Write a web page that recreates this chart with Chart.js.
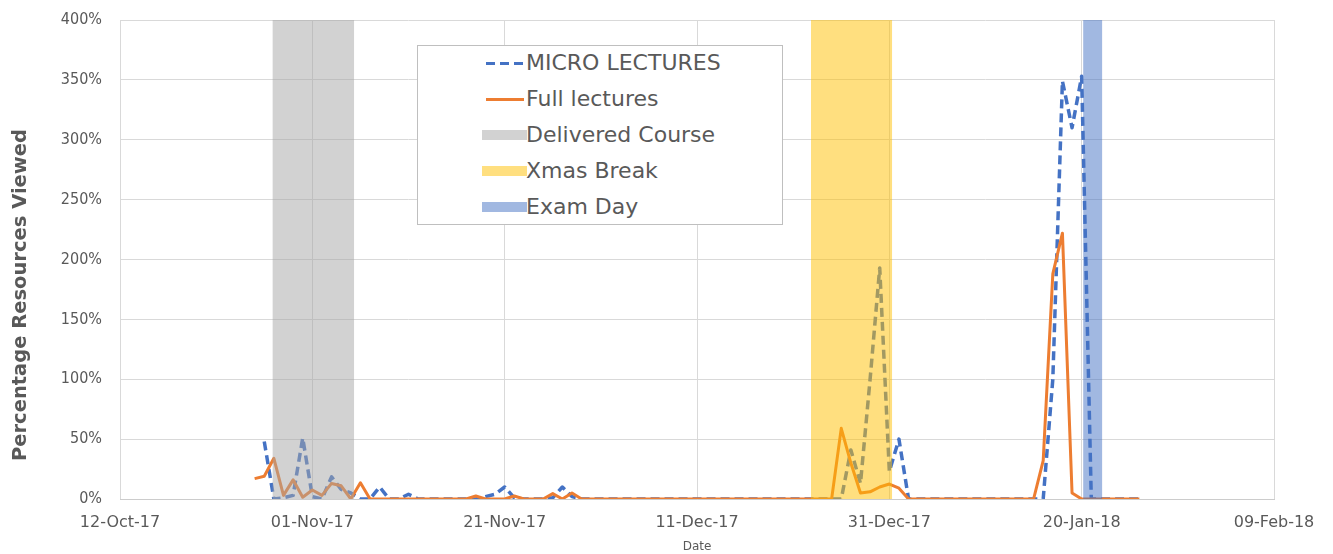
<!DOCTYPE html>
<html>
<head>
<meta charset="utf-8">
<title>Percentage Resources Viewed</title>
<script src="https://cdn.jsdelivr.net/npm/chart.js@4.4.0/dist/chart.umd.min.js"></script>
<style>
  html, body { margin: 0; padding: 0; background: #fff; }
  #wrap { position: relative; width: 1333px; height: 554px; }
  #legendBox { position: absolute; left: 417px; top: 45px; width: 364px; height: 178px; border: 1px solid #bfbfbf; background: #fff; }
  .lg-label { position: absolute; left: 526px; height: 36px; line-height: 36px; font-family: "DejaVu Sans"; font-size: 22px; color: #595959; white-space: nowrap; }
  .lg-swatch { position: absolute; }
</style>
</head>
<body>
<div id="wrap">
  <canvas id="chart" width="1333" height="554"></canvas>
  <div id="legendBox"></div>
</div>
<script>
// days are counted from 12-Oct-17 (day 0); first recorded day is 26-Oct-17
const firstDay = 14;

const microLectures = [
    null, 48, 0, 1, 3, 51, 2, 0, 18.5, 8, 5, 0, 0,            // days 14-26
    10, 0, 0, 4, 0, 0, 0, 0, 0, 0,                             // days 27-36
    0, 2, 4, 10, 1, 0, 0, 0, 1, 10, 2,                         // days 37-47
    0, 0, 0, 0, 0, 0, 0, 0, 0, 0, 0, 0, 0, 0, 0, 0, 0, 0, 0, 0, 0, 0, 0, 0, 0, 0, 0, // days 48-74
    0, 41, 13, 100, 193, 23, 50,                               // days 75-81
    0, 0, 0, 0, 0, 0, 0, 0, 0, 0, 0, 0, 0, 0,                  // days 82-95
    0, 100, 349, 310,                                          // days 96-99
    353, 0, 0, 0, 0, 0, 0                                      // days 100-106
];

const fullLectures = [
    17, 19, 34, 3, 16, 1.5, 7.5, 3, 13, 11, 0, 13.5, 0,
    0, 0, 0, 0, 0, 0, 0, 0, 0, 0,
    2.5, 0, 0, 0, 2.5, 0, 0, 0, 4.5, 0, 5,
    0, 0, 0, 0, 0, 0, 0, 0, 0, 0, 0, 0, 0, 0, 0, 0, 0, 0, 0, 0, 0, 0, 0, 0, 0, 0, 0,
    59, 30, 5, 6, 10, 12.5, 9,
    0, 0, 0, 0, 0, 0, 0, 0, 0, 0, 0, 0, 0, 0,
    32, 188, 222, 5,
    0, 0, 0, 0, 0, 0, 0
];

// shaded periods, [start day, end day]
const deliveredCourse = [15.85, 24.35];
const xmasBreak       = [71.85, 80.3];
const examDay         = [100.15, 102.15];

const tickLabels = ['12-Oct-17', '01-Nov-17', '21-Nov-17', '11-Dec-17', '31-Dec-17', '20-Jan-18', '09-Feb-18'];
const yMax = 400;

const toPoints = values => values.map((v, i) => ({ x: firstDay + i, y: v }));
const toBand = ([from, to]) => [{ x: from, y: yMax }, { x: to, y: yMax }];

const bandDataset = (label, range, color) => ({
    label,
    data: toBand(range),
    backgroundColor: color,
    borderWidth: 0,
    pointRadius: 0,
    fill: 'origin',
    order: 1,
    legendColor: color
});

const datasets = [
    {
        label: 'MICRO LECTURES',
        data: toPoints(microLectures),
        borderColor: '#4472c4',
        borderWidth: 3.5,
        borderDash: [9, 5],
        borderJoinStyle: 'round',
        pointRadius: 0,
        tension: 0,
        order: 3,
        legendType: 'dash'
    },
    {
        label: 'Full lectures',
        data: toPoints(fullLectures),
        borderColor: '#ed7d31',
        borderWidth: 3,
        borderJoinStyle: 'round',
        pointRadius: 0,
        tension: 0,
        order: 2,
        legendType: 'line'
    },
    bandDataset('Delivered Course', deliveredCourse, 'rgba(165,165,165,0.5)'),
    bandDataset('Xmas Break', xmasBreak, 'rgba(255,192,0,0.5)'),
    bandDataset('Exam Day', examDay, 'rgba(68,114,196,0.5)')
];

const yTitle = {
    id: 'yTitle',
    afterDraw: chart => {
        const { ctx } = chart;
        ctx.save();
        ctx.translate(21, 295);
        ctx.rotate(-Math.PI / 2);
        ctx.font = 'bold 19.5px "DejaVu Sans"';
        ctx.fillStyle = '#595959';
        ctx.textAlign = 'center';
        ctx.textBaseline = 'middle';
        ctx.fillText('Percentage Resources Viewed', 0, 0);
        ctx.restore();
    }
};

const config = {
    type: 'line',
    data: { datasets },
    options: {
        responsive: false,
        animation: false,
        events: [],
        layout: { padding: { left: 0, right: 59, top: 20, bottom: 0 } },
        plugins: { legend: { display: false }, tooltip: { enabled: false } },
        scales: {
            x: {
                type: 'linear',
                min: 0,
                max: 120,
                afterFit: scale => { scale.height = 55; },
                grid: { color: '#d9d9d9', drawTicks: false },
                border: { color: '#cccccc' },
                ticks: {
                    stepSize: 20,
                    padding: 14,
                    maxRotation: 0,
                    color: '#595959',
                    font: { family: 'DejaVu Sans', size: 16 },
                    callback: value => tickLabels[value / 20]
                },
                title: {
                    display: true,
                    text: 'Date',
                    color: '#595959',
                    font: { family: 'DejaVu Sans', size: 12 },
                    padding: 0
                }
            },
            y: {
                min: 0,
                max: yMax,
                afterFit: scale => {
                    scale.width = 120;
                    scale.paddingTop = 0;
                    scale.paddingBottom = 0;
                },
                grid: { color: '#d9d9d9', drawTicks: false },
                border: { display: false },
                ticks: {
                    stepSize: 50,
                    padding: 18,
                    color: '#595959',
                    font: { family: 'DejaVu Sans Condensed', size: 16 },
                    callback: value => value + '%'
                }
            }
        }
    },
    plugins: [yTitle]
};

const myChart = new Chart(document.getElementById('chart'), config);

// legend inside the plot area, like the original
const wrap = document.getElementById('wrap');
datasets.forEach((ds, i) => {
    const centerY = 63 + i * 36;
    const swatch = document.createElement('div');
    swatch.className = 'lg-swatch';
    if (ds.legendType === 'dash') {
        Object.assign(swatch.style, { left: '486px', width: '38px', height: '3px', top: (centerY - 1.5) + 'px',
            background: `repeating-linear-gradient(to right, ${ds.borderColor} 0 9px, transparent 9px 14px)` });
    } else if (ds.legendType === 'line') {
        Object.assign(swatch.style, { left: '486px', width: '38px', height: '3px', top: (centerY - 1.5) + 'px',
            background: ds.borderColor });
    } else {
        Object.assign(swatch.style, { left: '482px', width: '45px', height: '10px', top: (centerY - 5) + 'px',
            background: ds.legendColor });
    }
    const label = document.createElement('div');
    label.className = 'lg-label';
    label.style.top = (centerY - 18) + 'px';
    label.textContent = ds.label;
    wrap.appendChild(swatch);
    wrap.appendChild(label);
});
</script>
</body>
</html>
